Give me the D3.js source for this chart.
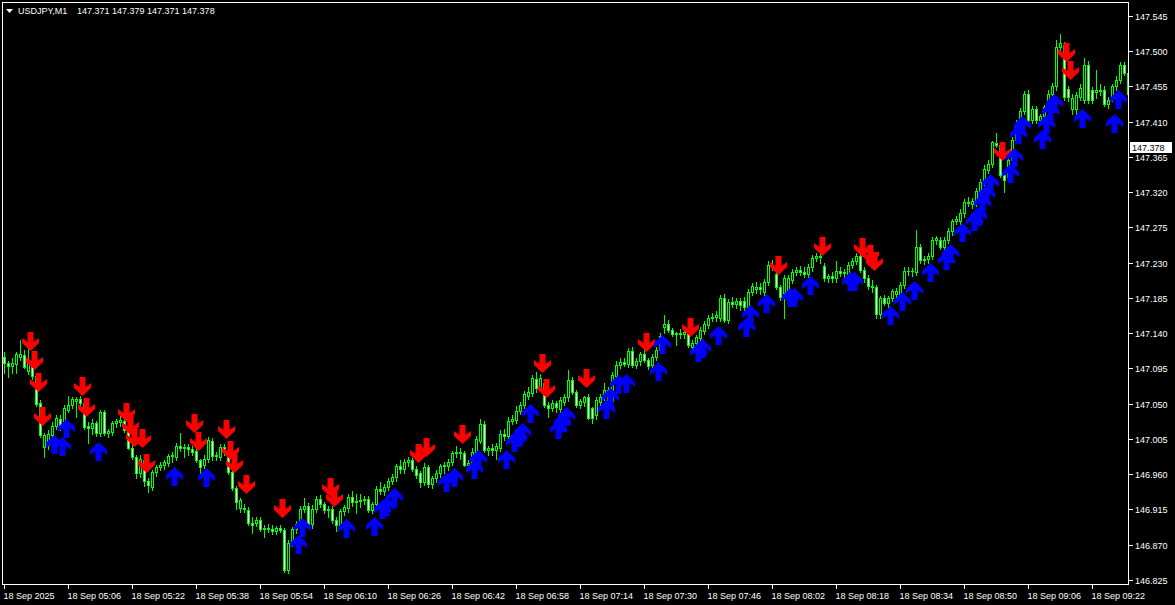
<!DOCTYPE html>
<html><head><meta charset="utf-8">
<script src="https://cdn.jsdelivr.net/npm/d3@7"></script>
<style>html,body{margin:0;padding:0;background:#000;overflow:hidden}</style>
</head><body><svg id="c" width="1175" height="605"></svg>
<script>
const symbolTitle = "USDJPY,M1";
const titleQuote = "147.371 147.379 147.371 147.378";
const lastPrice = 147.378;

const open = [
147.110,147.102,147.098,147.101,147.110,147.112,147.092,147.104,147.085,147.051,
146.995,146.997,147.010,147.021,147.031,147.026,147.042,147.049,147.053,147.056,
147.051,147.021,147.019,147.025,147.013,147.039,147.013,147.014,147.025,147.027,
147.028,147.017,146.994,146.982,146.962,146.978,146.951,146.944,146.963,146.969,
146.972,146.974,146.983,146.982,146.996,146.994,146.995,146.992,146.990,146.978,
146.972,146.980,147.002,146.983,146.982,146.995,146.990,146.963,146.942,146.917,
146.917,146.914,146.898,146.898,146.901,146.890,146.892,146.890,146.888,146.891,
146.889,146.838,146.872,146.890,146.896,146.916,146.919,146.896,146.916,146.928,
146.922,146.914,146.916,146.902,146.895,146.913,146.917,146.931,146.924,146.926,
146.927,146.929,146.914,146.922,146.941,146.939,146.944,146.951,146.956,146.970,
146.967,146.975,146.978,146.967,146.961,146.950,146.969,146.948,146.955,146.961,
146.970,146.971,146.976,146.987,146.989,146.987,146.972,146.974,146.988,147.003,
147.024,146.991,146.993,146.991,146.994,147.012,147.009,147.028,147.029,147.041,
147.048,147.060,147.064,147.082,147.070,147.077,147.049,147.045,147.051,147.043,
147.052,147.058,147.080,147.065,147.049,147.052,147.058,147.044,147.035,147.052,
147.058,147.068,147.053,147.086,147.100,147.103,147.101,147.117,147.100,147.104,
147.114,147.106,147.100,147.110,147.119,147.148,147.152,147.144,147.139,147.140,
147.139,147.141,147.122,147.127,147.134,147.143,147.151,147.159,147.161,147.160,
147.185,147.157,147.180,147.177,147.181,147.181,147.173,147.193,147.197,147.199,
147.193,147.205,147.227,147.215,147.199,147.192,147.195,147.208,147.218,147.221,
147.218,147.216,147.224,147.236,147.238,147.226,147.210,147.213,147.211,147.220,
147.217,147.216,147.227,147.232,147.238,147.221,147.211,147.200,147.199,147.164,
147.185,147.179,147.185,147.190,147.190,147.202,147.220,147.219,147.218,147.250,
147.233,147.235,147.239,147.259,147.259,147.250,147.259,147.270,147.283,147.283,
147.293,147.307,147.305,147.307,147.321,147.333,147.348,147.356,147.383,147.380,
147.342,147.339,147.361,147.387,147.409,147.424,147.445,147.412,147.426,147.412,
147.417,147.429,147.446,147.455,147.505,147.508,147.452,147.426,147.426,147.442,
147.438,147.482,147.450,147.448,147.451,147.451,147.433,147.440,147.455,147.463,
147.482,147.472];

const high = [
147.116,147.105,147.108,147.116,147.131,147.118,147.121,147.108,147.088,147.055,
147.013,147.017,147.027,147.036,147.035,147.048,147.060,147.058,147.059,147.060,
147.055,147.027,147.030,147.028,147.042,147.042,147.018,147.028,147.030,147.035,
147.032,147.020,146.997,146.985,146.984,146.982,146.955,146.966,146.972,146.976,
146.978,146.986,146.988,147.000,147.013,146.998,146.999,146.996,146.993,146.980,
146.984,147.007,147.006,146.988,146.998,146.999,146.994,146.967,146.945,146.930,
146.922,146.918,146.905,146.906,146.905,146.895,146.896,146.895,146.894,146.895,
146.892,146.876,146.893,146.900,146.920,146.930,146.923,146.921,146.932,146.933,
146.925,146.920,146.919,146.905,146.915,146.921,146.935,146.939,146.935,146.935,
146.932,146.932,146.925,146.945,146.950,146.947,146.955,146.960,146.973,146.978,
146.980,146.982,146.981,146.970,146.964,146.974,146.972,146.958,146.965,146.973,
146.976,146.980,146.990,146.996,146.994,146.990,146.978,146.993,147.009,147.030,
147.028,146.996,146.998,147.000,147.016,147.018,147.033,147.035,147.047,147.052,
147.066,147.072,147.087,147.090,147.088,147.081,147.052,147.055,147.054,147.058,
147.062,147.093,147.084,147.068,147.056,147.060,147.062,147.046,147.058,147.062,
147.077,147.072,147.090,147.104,147.108,147.108,147.121,147.122,147.108,147.116,
147.118,147.109,147.113,147.122,147.140,147.163,147.157,147.147,147.142,147.145,
147.144,147.144,147.131,147.138,147.148,147.156,147.163,147.166,147.168,147.189,
147.190,147.184,147.186,147.185,147.185,147.186,147.196,147.204,147.205,147.204,
147.209,147.232,147.233,147.222,147.202,147.214,147.214,147.222,147.225,147.226,
147.224,147.228,147.240,147.242,147.241,147.230,147.216,147.218,147.232,147.224,
147.222,147.231,147.236,147.242,147.244,147.224,147.214,147.208,147.202,147.188,
147.189,147.188,147.197,147.198,147.206,147.224,147.224,147.223,147.272,147.254,
147.238,147.242,147.263,147.264,147.263,147.263,147.274,147.286,147.290,147.298,
147.311,147.314,147.313,147.325,147.337,147.355,147.361,147.386,147.395,147.384,
147.346,147.365,147.390,147.412,147.428,147.449,147.450,147.430,147.430,147.420,
147.432,147.450,147.460,147.515,147.522,147.512,147.456,147.445,147.448,147.458,
147.492,147.487,147.454,147.476,147.458,147.455,147.442,147.458,147.468,147.486,
147.486,147.476];

const low = [
147.089,147.084,147.089,147.089,147.106,147.095,147.088,147.082,147.047,147.008,
146.982,146.992,147.006,147.018,147.017,147.022,147.040,147.045,147.033,147.045,
147.018,147.000,147.012,147.009,147.009,147.010,147.008,147.010,147.020,147.022,
147.014,146.992,146.980,146.955,146.957,146.945,146.937,146.940,146.958,146.965,
146.967,146.970,146.975,146.978,146.990,146.982,146.985,146.985,146.975,146.962,
146.968,146.976,146.978,146.978,146.978,146.985,146.960,146.940,146.915,146.912,
146.912,146.895,146.885,146.894,146.887,146.880,146.886,146.884,146.884,146.886,
146.835,146.834,146.868,146.885,146.893,146.912,146.893,146.892,146.912,146.918,
146.910,146.905,146.898,146.888,146.890,146.908,146.912,146.920,146.911,146.918,
146.922,146.912,146.910,146.918,146.935,146.934,146.940,146.947,146.952,146.962,
146.962,146.970,146.964,146.955,146.944,146.946,146.944,146.943,146.950,146.957,
146.962,146.966,146.972,146.982,146.980,146.970,146.965,146.970,146.984,147.000,
146.988,146.985,146.984,146.980,146.990,147.004,147.005,147.024,147.025,147.037,
147.044,147.056,147.060,147.065,147.066,147.046,147.033,147.041,147.040,147.038,
147.048,147.054,147.062,147.046,147.044,147.047,147.030,147.025,147.030,147.048,
147.055,147.050,147.050,147.082,147.096,147.098,147.097,147.097,147.095,147.100,
147.103,147.094,147.096,147.106,147.115,147.140,147.141,147.136,147.125,147.134,
147.134,147.122,147.115,147.123,147.130,147.139,147.147,147.155,147.156,147.156,
147.154,147.153,147.174,147.172,147.170,147.170,147.169,147.189,147.192,147.190,
147.189,147.201,147.221,147.196,147.183,147.160,147.190,147.204,147.214,147.214,
147.212,147.212,147.220,147.232,147.230,147.207,147.205,147.206,147.206,147.213,
147.212,147.212,147.223,147.228,147.218,147.206,147.196,147.193,147.160,147.160,
147.176,147.174,147.181,147.186,147.186,147.198,147.214,147.213,147.214,147.230,
147.228,147.230,147.235,147.254,147.247,147.246,147.255,147.266,147.279,147.279,
147.289,147.302,147.300,147.303,147.317,147.329,147.344,147.352,147.378,147.340,
147.320,147.335,147.357,147.383,147.405,147.420,147.409,147.408,147.408,147.406,
147.413,147.425,147.442,147.451,147.500,147.438,147.436,147.420,147.420,147.438,
147.434,147.434,147.434,147.440,147.444,147.430,147.428,147.436,147.450,147.459,
147.470,147.442];

const close = [
147.102,147.098,147.102,147.114,147.114,147.097,147.104,147.085,147.050,147.010,
147.010,147.012,147.022,147.032,147.021,147.044,147.049,147.056,147.056,147.051,
147.020,147.019,147.025,147.013,147.039,147.013,147.015,147.025,147.028,147.029,
147.017,146.994,146.982,146.962,146.980,146.951,146.946,146.963,146.969,146.972,
146.975,146.983,146.984,146.996,146.994,146.995,146.992,146.989,146.978,146.969,
146.980,147.004,146.983,146.985,146.995,146.990,146.963,146.942,146.925,146.927,
146.915,146.898,146.895,146.901,146.890,146.892,146.890,146.888,146.891,146.889,
146.838,146.872,146.890,146.896,146.916,146.919,146.896,146.916,146.928,146.922,
146.914,146.916,146.902,146.895,146.913,146.918,146.931,146.924,146.926,146.927,
146.929,146.914,146.922,146.941,146.939,146.944,146.951,146.956,146.970,146.967,
146.975,146.978,146.967,146.959,146.950,146.969,146.948,146.955,146.961,146.970,
146.972,146.976,146.987,146.989,146.987,146.972,146.974,146.988,147.005,147.024,
146.991,146.993,146.991,146.996,147.012,147.009,147.028,147.031,147.041,147.048,
147.063,147.065,147.083,147.070,147.083,147.049,147.045,147.051,147.046,147.055,
147.058,147.080,147.065,147.049,147.053,147.058,147.032,147.032,147.055,147.058,
147.068,147.053,147.087,147.100,147.103,147.101,147.117,147.100,147.104,147.113,
147.106,147.098,147.110,147.119,147.137,147.152,147.144,147.139,147.140,147.139,
147.141,147.125,147.127,147.135,147.144,147.152,147.159,147.161,147.163,147.185,
147.157,147.180,147.177,147.181,147.176,147.173,147.193,147.200,147.199,147.196,
147.205,147.227,147.224,147.199,147.186,147.211,147.211,147.218,147.221,147.218,
147.216,147.224,147.236,147.238,147.237,147.210,147.213,147.211,147.220,147.217,
147.218,147.227,147.232,147.238,147.221,147.211,147.200,147.199,147.164,147.185,
147.179,147.185,147.194,147.194,147.202,147.220,147.219,147.220,147.250,147.233,
147.235,147.239,147.259,147.261,147.250,147.259,147.270,147.283,147.286,147.294,
147.307,147.306,147.309,147.321,147.333,147.350,147.356,147.384,147.380,147.342,
147.336,147.361,147.387,147.409,147.424,147.445,147.412,147.426,147.412,147.417,
147.429,147.446,147.455,147.505,147.510,147.441,147.441,147.440,147.444,147.453,
147.482,147.438,147.438,147.451,147.449,147.433,147.438,147.455,147.463,147.482,
147.472,147.445];

// sell (red, down) and buy (blue, up) signal arrows: bar index and price of arrow tip
const sellIdx = [6,7,8,9,19,20,30,31,32,34,35,47,48,55,56,57,60,69,81,82,103,105,114,134,135,145,160,171,193,204,214,216,217,249,265,266];
const sellPrice = [147.117,147.093,147.065,147.022,147.060,147.033,147.027,147.010,146.995,146.994,146.962,147.013,146.990,147.005,146.978,146.962,146.935,146.904,146.931,146.918,146.974,146.982,146.999,147.089,147.057,147.070,147.116,147.135,147.214,147.239,147.237,147.228,147.219,147.360,147.486,147.463];
const buyIdx = [12,14,15,23,42,50,73,74,85,92,94,95,97,110,112,117,118,125,127,128,129,131,138,139,140,150,151,153,155,163,164,173,174,178,185,186,190,196,197,201,211,212,221,224,227,231,235,236,239,242,243,244,245,246,251,252,253,254,259,260,261,262,269,277,278];
const buyPrice = [147.010,147.007,147.030,147.001,146.969,146.968,146.882,146.904,146.903,146.905,146.927,146.931,146.942,146.962,146.968,146.978,146.991,146.991,147.013,147.019,147.025,147.050,147.029,147.038,147.046,147.055,147.070,147.087,147.088,147.103,147.138,147.128,147.133,147.149,147.159,147.176,147.190,147.198,147.198,147.213,147.218,147.218,147.175,147.193,147.207,147.230,147.245,147.254,147.281,147.295,147.301,147.318,147.329,147.343,147.356,147.376,147.406,147.417,147.399,147.419,147.435,147.445,147.426,147.420,147.451];

const priceTicks = [147.545,147.500,147.455,147.410,147.365,147.320,147.275,147.230,147.185,147.140,147.095,147.050,147.005,146.960,146.915,146.870,146.825];
const timeTickIdx = [0,16,32,48,64,80,96,112,128,144,160,176,192,208,224,240,256,272];
const timeTickLabels = ["18 Sep 2025","18 Sep 05:06","18 Sep 05:22","18 Sep 05:38","18 Sep 05:54","18 Sep 06:10","18 Sep 06:26","18 Sep 06:42","18 Sep 06:58","18 Sep 07:14","18 Sep 07:30","18 Sep 07:46","18 Sep 08:02","18 Sep 08:18","18 Sep 08:34","18 Sep 08:50","18 Sep 09:06","18 Sep 09:22"];

const W = 1175, H = 605;
const plotL = 2, plotR = 1128, plotT = 2, plotB = 584;
const FONT = "'Liberation Sans', Arial, sans-serif";
const LIME = "#00ff00";

const svg = d3.select("#c");
svg.append("rect").attr("width", W).attr("height", H).attr("fill", "#000");

const n = Math.min(open.length, high.length, low.length, close.length);
const x = d3.scaleLinear().domain([0, 281]).range([3.8, 1127.8]);
const y = d3.scaleLinear().domain([146.825, 147.545]).range([580, 16]);

const bars = d3.range(n).map(i => ({i, o: open[i], h: high[i], l: low[i], c: close[i]}));

const clipId = "plotclip";
svg.append("clipPath").attr("id", clipId).append("rect")
  .attr("x", plotL + 1).attr("y", plotT + 1).attr("width", plotR - plotL - 1).attr("height", plotB - plotT - 1);

const g = svg.append("g").attr("clip-path", `url(#${clipId})`).attr("shape-rendering", "crispEdges");

// wicks
g.selectAll("rect.wick").data(bars).join("rect").attr("class", "wick")
  .attr("x", d => Math.round(x(d.i)))
  .attr("y", d => Math.round(y(d.h)))
  .attr("width", 1)
  .attr("height", d => Math.max(1, Math.round(y(d.l)) - Math.round(y(d.h)) + 1))
  .attr("fill", LIME);

// bodies
g.selectAll("rect.body").data(bars).join("rect").attr("class", "body")
  .attr("x", d => Math.round(x(d.i)) - 1)
  .attr("y", d => Math.round(y(Math.max(d.o, d.c))))
  .attr("width", 3)
  .attr("height", d => Math.max(1, Math.round(y(Math.min(d.o, d.c))) - Math.round(y(Math.max(d.o, d.c))) + 1))
  .attr("fill", LIME);

g.selectAll("rect.inner").data(bars.filter(d => Math.round(y(Math.min(d.o, d.c))) - Math.round(y(Math.max(d.o, d.c))) >= 2))
  .join("rect").attr("class", "inner")
  .attr("x", d => Math.round(x(d.i)))
  .attr("y", d => Math.round(y(Math.max(d.o, d.c))) + 1)
  .attr("width", 1)
  .attr("height", d => Math.round(y(Math.min(d.o, d.c))) - Math.round(y(Math.max(d.o, d.c))) - 1)
  .attr("fill", d => d.c >= d.o ? "#000" : "#fff");

// arrows
function downArrow(cx, ty) {
  return [[cx-3,ty-19],[cx+3,ty-19],[cx+3,ty-9],[cx+8.5,ty-13],[cx+8.5,ty-8],[cx,ty],[cx-8.5,ty-8],[cx-8.5,ty-13],[cx-3,ty-9]];
}
function upArrow(cx, ty) {
  return [[cx,ty],[cx+8.5,ty+8],[cx+8.5,ty+13],[cx+3,ty+9],[cx+3,ty+19],[cx-3,ty+19],[cx-3,ty+9],[cx-8.5,ty+13],[cx-8.5,ty+8]];
}
const line = d3.line();
const ga = svg.append("g").attr("clip-path", `url(#${clipId})`);
ga.selectAll("path.sell").data(sellIdx.map((k, j) => ({k, p: sellPrice[j]}))).join("path")
  .attr("class", "sell")
  .attr("d", d => line(downArrow(Math.round(x(d.k)) + 2.5, Math.round(y(d.p)))) + "Z")
  .attr("fill", "#ff0000");
ga.selectAll("path.buy").data(buyIdx.map((k, j) => ({k, p: buyPrice[j]}))).join("path")
  .attr("class", "buy")
  .attr("d", d => line(upArrow(Math.round(x(d.k)) + 2.5, Math.round(y(d.p)))) + "Z")
  .attr("fill", "#0000ff");

// frame
svg.append("rect").attr("x", plotL + 0.5).attr("y", plotT + 0.5)
  .attr("width", plotR - plotL).attr("height", plotB - plotT)
  .attr("fill", "none").attr("stroke", "#fff").attr("stroke-width", 1).attr("shape-rendering", "crispEdges");

// price axis
const pa = svg.append("g");
pa.selectAll("line").data(priceTicks).join("line")
  .attr("x1", plotR + 1).attr("x2", plotR + 5)
  .attr("y1", d => Math.round(y(d)) + 0.5).attr("y2", d => Math.round(y(d)) + 0.5)
  .attr("stroke", "#fff").attr("shape-rendering", "crispEdges");
pa.selectAll("text").data(priceTicks).join("text")
  .attr("x", plotR + 7).attr("y", d => Math.round(y(d)) + 4)
  .attr("fill", "#fff").attr("font-family", FONT).attr("font-size", "9px")
  .text(d => d3.format(".3f")(d));

// current price label
const yl = Math.round(y(lastPrice));
svg.append("rect").attr("x", plotR + 2).attr("y", yl - 5).attr("width", 42).attr("height", 11).attr("fill", "#fff");
svg.append("text").attr("x", plotR + 4).attr("y", yl + 4).attr("fill", "#000")
  .attr("font-family", FONT).attr("font-size", "9px").text(d3.format(".3f")(lastPrice));

// time axis
const ta = svg.append("g");
ta.selectAll("line").data(timeTickIdx).join("line")
  .attr("x1", d => Math.round(x(d)) + 0.5).attr("x2", d => Math.round(x(d)) + 0.5)
  .attr("y1", plotB + 1).attr("y2", plotB + 5)
  .attr("stroke", "#fff").attr("shape-rendering", "crispEdges");
ta.selectAll("text").data(timeTickIdx).join("text")
  .attr("x", d => Math.round(x(d)) - 0.5).attr("y", 599)
  .attr("fill", "#fff").attr("font-family", FONT).attr("font-size", "9px")
  .text((d, j) => timeTickLabels[j]);

// title
svg.append("path").attr("d", "M6,9L13,9L9.5,13Z").attr("fill", "#fff");
svg.append("text").attr("x", 18).attr("y", 14).attr("fill", "#fff")
  .attr("font-family", FONT).attr("font-size", "9px").text(symbolTitle);
svg.append("text").attr("x", 77).attr("y", 14).attr("fill", "#fff")
  .attr("font-family", FONT).attr("font-size", "9px").text(titleQuote);
</script>
</body></html>
